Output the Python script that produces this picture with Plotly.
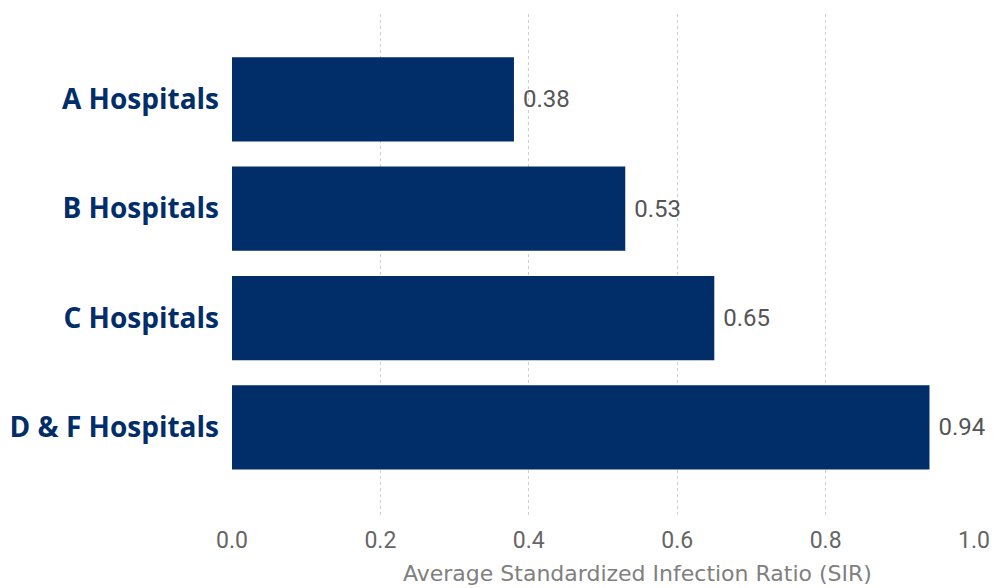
import plotly.graph_objects as go

categories = ["A Hospitals", "B Hospitals", "C Hospitals", "D & F Hospitals"]
sir_values = [0.38, 0.53, 0.65, 0.94]
tick_values = [0.0, 0.2, 0.4, 0.6, 0.8, 1.0]
tick_labels = ["0.0", "0.2", "0.4", "0.6", "0.8", "1.0"]
x_title = "Average Standardized Infection Ratio (SIR)"

fig = go.Figure(go.Bar(
    x=sir_values,
    y=categories,
    orientation="h",
    marker=dict(color="#012D69", line=dict(width=0)),
    width=0.77,
    text=[f" {v:.2f}" for v in sir_values],
    textposition="outside",
    textfont=dict(family="Roboto", size=24, color="#555555"),
    cliponaxis=False,
))

fig.update_layout(
    width=995, height=588,
    margin=dict(l=232, r=21, t=14, b=72),
    paper_bgcolor="white", plot_bgcolor="white",
    showlegend=False,
    xaxis=dict(
        range=[0, 1.0],
        tickvals=tick_values, ticktext=tick_labels,
        showgrid=True, gridcolor="#CFCFCF", griddash="dot", gridwidth=1,
        zeroline=False, showline=False,
        tickfont=dict(family="Roboto", size=23, color="#666666"),
        ticklabelstandoff=8,
        automargin=False,
    ),
    yaxis=dict(
        categoryorder="array", categoryarray=categories,
        range=[3.81, -0.78],
        showgrid=False, zeroline=False, showline=False,
        tickfont=dict(family="Open Sans", size=28, color="#012D69", weight="bold"),
        ticklabelstandoff=12,
        automargin=False,
    ),
    annotations=[dict(
        text=x_title, xref="paper", yref="paper",
        x=(637 - 232) / 742, y=-(573 - 516) / 502,
        xanchor="center", yanchor="middle", showarrow=False,
        font=dict(family="DejaVu Sans", size=22, color="#808080"),
    )],
)

fig.write_html(
    "out.html",
    config={"displayModeBar": False},
    post_script="document.body.style.margin='0';document.body.style.overflow='hidden';",
)
